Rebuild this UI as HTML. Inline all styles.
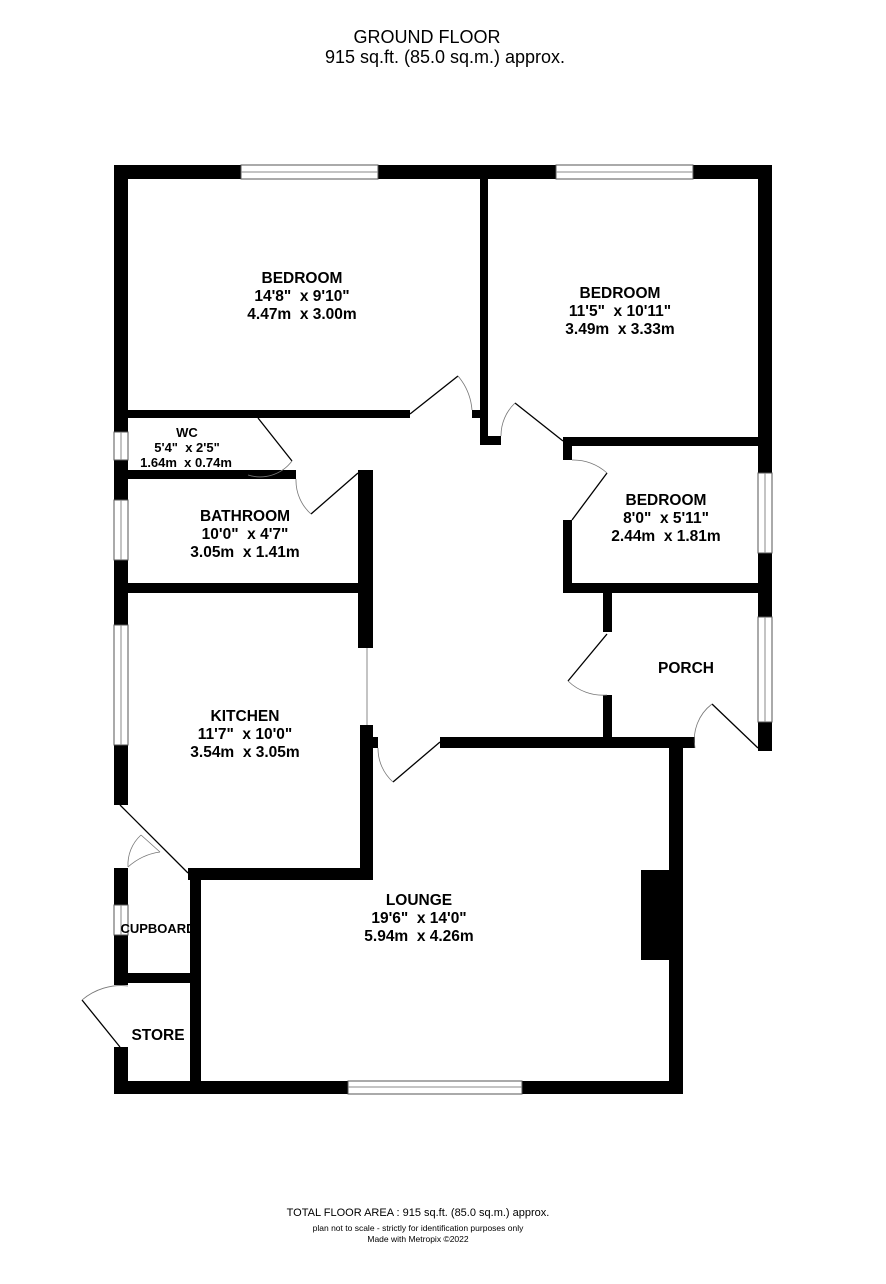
<!DOCTYPE html>
<html><head><style>
html,body{margin:0;padding:0;background:#fff;}
svg{display:block}
text{font-family:"Liberation Sans",Arial,sans-serif;white-space:pre}
.b{font-weight:bold;font-size:15.5px;text-anchor:middle}
.s{font-weight:bold;font-size:13px;text-anchor:middle}
</style></head><body>
<svg width="886" height="1284" viewBox="0 0 886 1284" xmlns="http://www.w3.org/2000/svg" xml:space="preserve">
<text x="427" y="43" font-size="18" text-anchor="middle">GROUND FLOOR</text>
<text x="445" y="63" font-size="18" text-anchor="middle">915 sq.ft. (85.0 sq.m.) approx.</text>
<g fill="#000">
<rect x="114" y="165" width="127" height="14"/>
<rect x="378" y="165" width="178" height="14"/>
<rect x="693" y="165" width="79" height="14"/>
<rect x="114" y="165" width="14" height="267"/>
<rect x="114" y="460" width="14" height="40"/>
<rect x="114" y="560" width="14" height="65"/>
<rect x="114" y="745" width="14" height="60"/>
<rect x="114" y="868" width="14" height="37"/>
<rect x="114" y="935" width="14" height="50"/>
<rect x="114" y="1047" width="14" height="47"/>
<rect x="758" y="165" width="14" height="308"/>
<rect x="758" y="553" width="14" height="64"/>
<rect x="758" y="722" width="14" height="29"/>
<rect x="114" y="1081" width="234" height="13"/>
<rect x="522" y="1081" width="161" height="13"/>
<rect x="480" y="179" width="8" height="266"/>
<rect x="480" y="436" width="21" height="9"/>
<rect x="128" y="410" width="282" height="8"/>
<rect x="472" y="410" width="8" height="8"/>
<rect x="128" y="470" width="168" height="9"/>
<rect x="358" y="470" width="15" height="178"/>
<rect x="128" y="583" width="245" height="10"/>
<rect x="360" y="725" width="13" height="155"/>
<rect x="373" y="737" width="5" height="11"/>
<rect x="188" y="868" width="185" height="12"/>
<rect x="190" y="870" width="11" height="224"/>
<rect x="114" y="973" width="86" height="10"/>
<rect x="440" y="737" width="255" height="11"/>
<rect x="669" y="737" width="14" height="357"/>
<rect x="641" y="870" width="28" height="90"/>
<rect x="563" y="437" width="209" height="9"/>
<rect x="563" y="437" width="9" height="23"/>
<rect x="563" y="520" width="9" height="73"/>
<rect x="563" y="583" width="209" height="10"/>
<rect x="603" y="593" width="9" height="39"/>
<rect x="603" y="695" width="9" height="45"/>
</g>
<g fill="#fff" stroke="#555" stroke-width="1">
<rect x="241" y="165" width="137" height="14"/>
<rect x="556" y="165" width="137" height="14"/>
<rect x="114" y="432" width="14" height="28"/>
<rect x="114" y="500" width="14" height="60"/>
<rect x="114" y="625" width="14" height="120"/>
<rect x="114" y="905" width="14" height="30"/>
<rect x="758" y="473" width="14" height="80"/>
<rect x="758" y="617" width="14" height="105"/>
<rect x="348" y="1081" width="174" height="13"/>
</g>
<g stroke="#888" stroke-width="1">
<line x1="241" y1="172" x2="378" y2="172"/><line x1="556" y1="172" x2="693" y2="172"/>
<line x1="121" y1="432" x2="121" y2="460"/><line x1="121" y1="500" x2="121" y2="560"/>
<line x1="121" y1="625" x2="121" y2="745"/><line x1="121" y1="905" x2="121" y2="935"/>
<line x1="765" y1="473" x2="765" y2="553"/><line x1="765" y1="617" x2="765" y2="722"/>
<line x1="348" y1="1087" x2="522" y2="1087"/>
<line x1="367" y1="648" x2="367" y2="725"/>
</g>
<g fill="none" stroke="#000" stroke-width="1.3">
<line x1="410" y1="414" x2="458" y2="376"/>
<line x1="258" y1="418" x2="292" y2="461"/>
<line x1="358" y1="473" x2="311" y2="514"/>
<line x1="515" y1="403" x2="563" y2="441"/>
<line x1="572" y1="520" x2="607" y2="473"/>
<line x1="607" y1="634" x2="568" y2="681"/>
<line x1="712" y1="704" x2="758" y2="748"/>
<line x1="440" y1="742" x2="393" y2="782"/>
<line x1="120" y1="805" x2="188" y2="873"/>
<line x1="82" y1="1000" x2="120" y2="1047"/>
</g>
<g fill="none" stroke="#777" stroke-width="0.8">
<path d="M458 376 A60 60 0 0 1 472 410"/>
<path d="M292 461 A40 40 0 0 1 248 475"/>
<path d="M296 479 A45 45 0 0 0 311 514"/>
<path d="M515 403 A45 45 0 0 0 501 436"/>
<path d="M572 460 A50 50 0 0 1 607 473"/>
<path d="M568 681 A50 50 0 0 0 607 695"/>
<path d="M712 704 A45 45 0 0 0 695 748"/>
<path d="M393 782 A45 45 0 0 1 378 748"/>
<path d="M128 867 A60 60 0 0 1 160 852"/><line x1="160" y1="852" x2="141" y2="835"/><path d="M141 835 A40 40 0 0 0 128 867"/>
<path d="M82 1000 A60 60 0 0 1 128 986"/>
</g>
<text class="b" x="302" y="283">BEDROOM</text>
<text class="b" x="302" y="301">14'8"  x 9'10"</text>
<text class="b" x="302" y="319">4.47m  x 3.00m</text>
<text class="b" x="620" y="298">BEDROOM</text>
<text class="b" x="620" y="316">11'5"  x 10'11"</text>
<text class="b" x="620" y="334">3.49m  x 3.33m</text>
<text class="s" x="187" y="437">WC</text>
<text class="s" x="187" y="452">5'4"  x 2'5"</text>
<text class="s" x="186" y="467">1.64m  x 0.74m</text>
<text class="b" x="245" y="521">BATHROOM</text>
<text class="b" x="245" y="539">10'0"  x 4'7"</text>
<text class="b" x="245" y="557">3.05m  x 1.41m</text>
<text class="b" x="666" y="505">BEDROOM</text>
<text class="b" x="666" y="523">8'0"  x 5'11"</text>
<text class="b" x="666" y="541">2.44m  x 1.81m</text>
<text class="b" x="686" y="673">PORCH</text>
<text class="b" x="245" y="721">KITCHEN</text>
<text class="b" x="245" y="739">11'7"  x 10'0"</text>
<text class="b" x="245" y="757">3.54m  x 3.05m</text>
<text class="b" x="419" y="905">LOUNGE</text>
<text class="b" x="419" y="923">19'6"  x 14'0"</text>
<text class="b" x="419" y="941">5.94m  x 4.26m</text>
<text x="158" y="933" font-size="13" font-weight="bold" text-anchor="middle">CUPBOARD</text>
<text class="b" x="158" y="1040">STORE</text>
<text x="418" y="1216" font-size="11" text-anchor="middle">TOTAL FLOOR AREA : 915 sq.ft. (85.0 sq.m.) approx.</text>
<text x="418" y="1231" font-size="8.5" text-anchor="middle">plan not to scale - strictly for identification purposes only</text>
<text x="418" y="1242" font-size="8.5" text-anchor="middle">Made with Metropix ©2022</text>
</svg>
</body></html>
